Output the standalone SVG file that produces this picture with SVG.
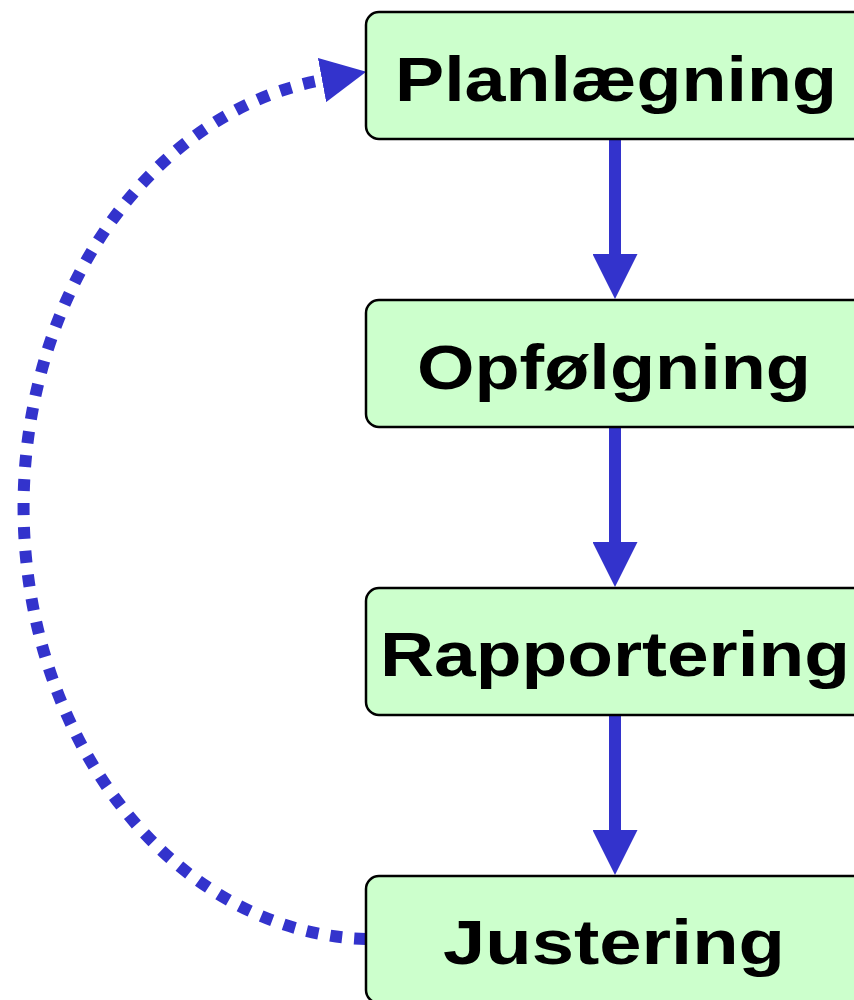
<svg xmlns="http://www.w3.org/2000/svg" width="854" height="1000" viewBox="0 0 854 1000">
<defs>
<style>
.box{fill:#ccffcc;stroke:#000;stroke-width:2.5}
.lbl{font-family:"Liberation Sans",Arial,sans-serif;font-weight:bold;font-size:63px;fill:#000;text-anchor:middle}
.flow{stroke:#3333cc;stroke-width:12;fill:none}
.loop{stroke:#3333cc;stroke-width:12;fill:none;stroke-dasharray:12 12}
</style>
<marker id="ah" markerUnits="userSpaceOnUse" viewBox="0 0 45 45" refX="0" refY="22.5" markerWidth="45" markerHeight="45" orient="auto">
<path d="M0,0 L45,22.5 L0,45 Z" fill="#3333cc"/>
</marker>
</defs>
<g id="connectors">
<line class="flow" x1="615" y1="139" x2="615" y2="254" marker-end="url(#ah)"/>
<line class="flow" x1="615" y1="427" x2="615" y2="542" marker-end="url(#ah)"/>
<line class="flow" x1="615" y1="715" x2="615" y2="830" marker-end="url(#ah)"/>
<path class="loop" d="M366,939 A351,432 0 0 1 322,80" marker-end="url(#ah)"/>
</g>
<g id="node-planlaegning">
<rect class="box" x="366" y="12" width="500" height="127" rx="13"/>
<text class="lbl" x="616" y="101" textLength="442" lengthAdjust="spacingAndGlyphs">Planlægning</text>
</g>
<g id="node-opfoelgning">
<rect class="box" x="366" y="300" width="500" height="127" rx="13"/>
<text class="lbl" x="614" y="389" textLength="394" lengthAdjust="spacingAndGlyphs">Opfølgning</text>
</g>
<g id="node-rapportering">
<rect class="box" x="366" y="588" width="500" height="127" rx="13"/>
<text class="lbl" x="615" y="676" textLength="470" lengthAdjust="spacingAndGlyphs">Rapportering</text>
</g>
<g id="node-justering">
<rect class="box" x="366" y="876" width="500" height="127" rx="13"/>
<text class="lbl" x="614" y="964" textLength="342" lengthAdjust="spacingAndGlyphs">Justering</text>
</g>
</svg>
